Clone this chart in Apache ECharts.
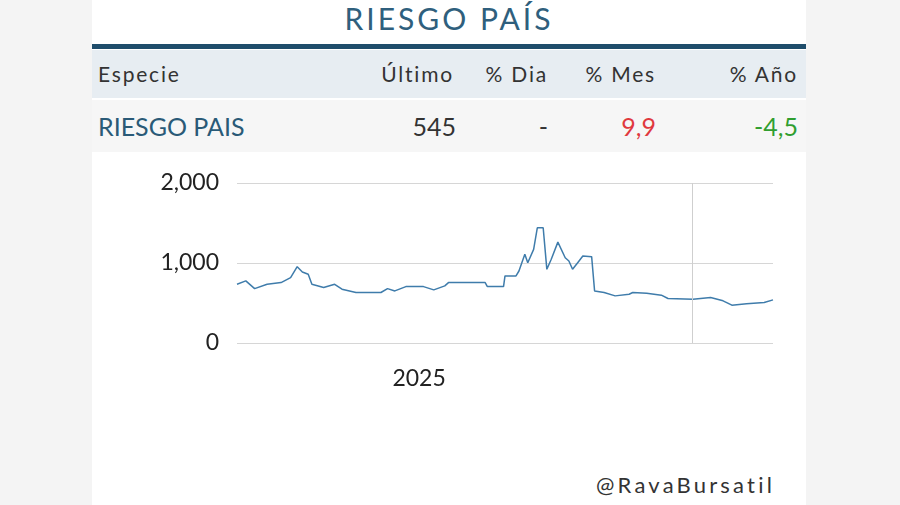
<!DOCTYPE html>
<html>
<head>
<meta charset="UTF-8">
<script src="https://cdn.jsdelivr.net/npm/echarts@6/dist/echarts.min.js"></script>
<style>
  body { margin:0; background:#f4f4f4; font-family:Lato, sans-serif; }
  #card { position:absolute; left:92px; top:0; width:714px; height:505px; background:#fff; }
  #title { position:absolute; left:0; width:714px; top:0; text-align:center; font-size:30px; color:#2f5f7d; letter-spacing:3px; }
  #bar { position:absolute; left:0; width:714px; top:44px; height:5px; background:#1f4d6b; }
  .row { position:absolute; left:0; width:714px; }
  .row span { position:absolute; }
  #head { top:50px; height:48px; background:#e7edf2; font-size:21px; color:#333; letter-spacing:1.8px; }
  #data { top:100px; height:52px; background:#f6f6f6; font-size:25px; color:#333; }
  #chart { position:absolute; left:0; top:0; width:900px; height:505px; }
  #rava { position:absolute; left:504px; top:471px; font-size:22px; color:#333; letter-spacing:3.2px; }
</style>
</head>
<body>
<div id="card">
  <div id="title">RIESGO PAÍS</div>
  <div id="bar"></div>
  <div class="row" id="head">
    <span style="left:6px;top:11px">Especie</span>
    <span style="right:352px;top:11px">Último</span>
    <span style="right:258px;top:11px">% Dia</span>
    <span style="right:150px;top:11px">% Mes</span>
    <span style="right:8px;top:11px">% Año</span>
  </div>
  <div class="row" id="data">
    <span style="left:6px;top:11px;color:#2a5a77">RIESGO PAIS</span>
    <span style="right:350px;top:11px">545</span>
    <span style="right:258px;top:11px">-</span>
    <span style="right:150px;top:11px;color:#e0393e">9,9</span>
    <span style="right:8px;top:11px;color:#2f9e2f">-4,5</span>
  </div>
  <div id="rava">@RavaBursatil</div>
</div>
<div id="chart"></div>
<script>
// fechas y valores del riesgo pais (aprox.)
var fechas = ['2024-04-28','2024-05-10','2024-05-22','2024-06-08','2024-06-27','2024-07-10','2024-07-19','2024-07-26','2024-08-03','2024-08-08',
  '2024-08-24','2024-09-08','2024-09-18','2024-10-07','2024-11-10','2024-11-19','2024-11-29','2024-12-14','2025-01-07','2025-01-21',
  '2025-02-05','2025-02-10','2025-04-01','2025-04-04','2025-04-26','2025-04-28','2025-05-13','2025-05-17','2025-05-25','2025-05-29',
  '2025-06-06','2025-06-11','2025-06-19','2025-06-24','2025-06-30','2025-07-09','2025-07-19','2025-07-24','2025-07-29','2025-08-05',
  '2025-08-12','2025-08-24','2025-08-28','2025-09-10','2025-09-25','2025-10-14','2025-10-19','2025-11-07','2025-11-27','2025-12-06',
  '2026-01-09','2026-02-02','2026-02-19','2026-03-03','2026-03-23','2026-04-16','2026-04-28'];
var valores = [734,776,680,734,755,817,954,888,859,734,
  693,734,672,631,631,680,651,705,705,664,
  714,755,755,705,705,838,838,900,1108,1004,
  1170,1440,1440,921,1046,1261,1066,1025,921,1004,
  1087,1079,651,631,589,610,631,622,598,556,
  548,568,527,473,490,506,539];
var yTicks = [0, 1000, 2000];
var xLabels = ['2025-01-01'];
var yearLine = '2026-01-08';

function ts(d) { return Date.parse(d + 'T00:00:00Z'); }
var serie = [];
for (var i = 0; i < fechas.length; i++) serie.push([ts(fechas[i]), valores[i]]);

var chart = echarts.init(document.getElementById('chart'));
chart.setOption({
  animation: false,
  grid: { left: 237, right: 127, top: 183, bottom: 162, show: false },
  xAxis: {
    type: 'value',
    min: ts(fechas[0]), max: ts(fechas[fechas.length - 1]),
    axisLine: { show: false }, axisTick: { show: false },
    splitLine: { show: true, lineStyle: { color: 'rgba(0,0,0,0)' } },
    axisLabel: {
      customValues: xLabels.map(ts),
      formatter: function (v) { return new Date(v).getUTCFullYear() + ''; },
      fontSize: 23, color: '#222', fontFamily: 'Lato', margin: 24
    }
  },
  yAxis: {
    type: 'value', min: yTicks[0], max: yTicks[2], interval: 1000,
    axisLine: { show: false }, axisTick: { show: false },
    axisLabel: { fontSize: 23, color: '#222', fontFamily: 'Lato', margin: 18,
      formatter: function (v) { return v.toLocaleString('en-US'); } },
    splitLine: { lineStyle: { color: '#d6d6d6' } }
  },
  series: [{
    type: 'line', data: serie, showSymbol: false,
    lineStyle: { color: '#3f7cab', width: 1.5 },
    markLine: { symbol: 'none', silent: true, label: { show: false },
      lineStyle: { color: '#cfcfcf', type: 'solid', width: 1 },
      data: [{ xAxis: ts(yearLine) }] }
  }]
});
</script>
</body>
</html>
